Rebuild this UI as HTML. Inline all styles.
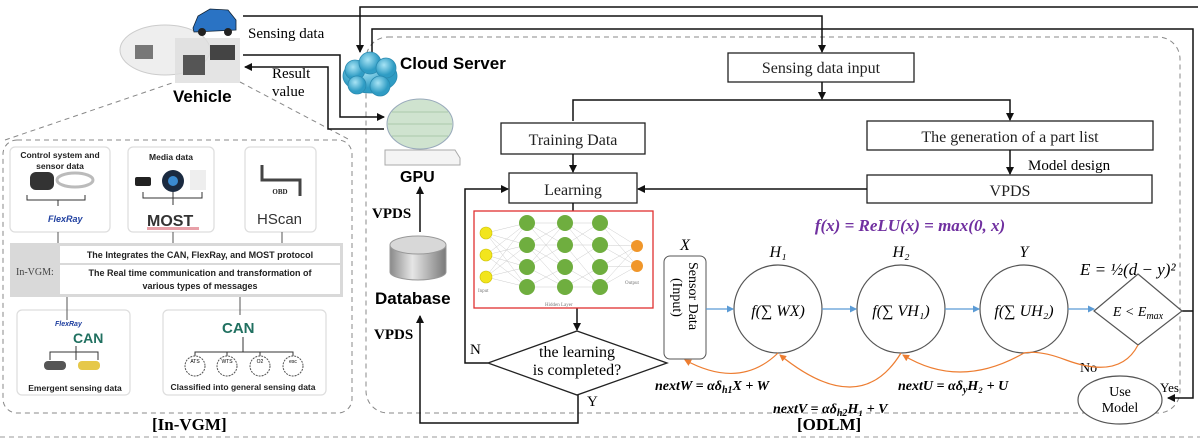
<!DOCTYPE html>
<html><head><meta charset="utf-8"><style>
html,body{margin:0;padding:0;background:#fff;}
svg{display:block;}
.s{font-family:"Liberation Serif",serif;}
.a{font-family:"Liberation Sans",sans-serif;}
</style></head><body>
<svg width="1200" height="440" viewBox="0 0 1200 440" xmlns="http://www.w3.org/2000/svg">
<defs>
<marker id="ar" markerWidth="8" markerHeight="8" refX="7" refY="4" orient="auto" markerUnits="userSpaceOnUse"><path d="M0,0 L8,4 L0,8 z" fill="#111"/></marker>
<marker id="ab" markerWidth="7" markerHeight="7" refX="6" refY="3.5" orient="auto" markerUnits="userSpaceOnUse"><path d="M0,0 L7,3.5 L0,7 z" fill="#5b9bd5"/></marker>
<marker id="ao" markerWidth="7" markerHeight="7" refX="6" refY="3.5" orient="auto" markerUnits="userSpaceOnUse"><path d="M0,0 L7,3.5 L0,7 z" fill="#ed7d31"/></marker>
<radialGradient id="cl" cx="0.4" cy="0.35"><stop offset="0" stop-color="#a8e4f5"/><stop offset="1" stop-color="#2f9cc4"/></radialGradient>
<linearGradient id="db" x1="0" x2="1"><stop offset="0" stop-color="#8a8a8a"/><stop offset="0.4" stop-color="#e6e6e6"/><stop offset="1" stop-color="#7a7a7a"/></linearGradient>
</defs>

<rect x="366" y="37" width="814" height="376" rx="22" fill="none" stroke="#888" stroke-dasharray="5,4"/>
<rect x="3" y="140" width="349" height="273" rx="14" fill="none" stroke="#888" stroke-dasharray="5,4"/>
<line x1="5" y1="140" x2="175" y2="82" stroke="#888" stroke-dasharray="5,4"/>
<line x1="240" y1="82" x2="350" y2="140" stroke="#888" stroke-dasharray="5,4"/>
<line x1="0" y1="437" x2="1200" y2="437" stroke="#999" stroke-dasharray="5,4"/>

<g>
<ellipse cx="165" cy="50" rx="45" ry="25" fill="#eee" stroke="#ccc"/>
<rect x="175" y="38" width="65" height="45" fill="#ddd" opacity="0.8"/>
<rect x="183" y="55" width="22" height="20" fill="#555"/>
<rect x="210" y="45" width="25" height="15" fill="#444"/>
<rect x="135" y="45" width="18" height="14" fill="#777"/>
<path d="M193,28 L198,16 L210,9 L228,10 L236,20 L236,30 L194,32 z" fill="#2a73c4" stroke="#123" stroke-width="0.8"/>
<circle cx="202" cy="32" r="4" fill="#222"/><circle cx="228" cy="32" r="4" fill="#222"/>
</g>
<text x="173" y="102" class="a" font-size="17" font-weight="bold">Vehicle</text>
<text x="248" y="38" class="s" font-size="15">Sensing data</text>
<text x="272" y="78" class="s" font-size="15">Result</text>
<text x="272" y="96" class="s" font-size="15">value</text>

<g stroke="#111" stroke-width="1.5" fill="none">
<polyline points="1198,7 360,7 360,52" marker-end="url(#ar)"/>
<polyline points="243,16 822,16 822,52" marker-end="url(#ar)"/>
<polyline points="372,55 372,29 1193,29 1193,398 1168,398" marker-end="url(#ar)"/>
<polyline points="1182,311 1193,311"/>
<polyline points="243,55 340,55 340,117 384,117" marker-end="url(#ar)"/>
<polyline points="384,129 328,129 328,67 245,67" marker-end="url(#ar)"/>
</g>

<g fill="url(#cl)" stroke="#2a8ab0" stroke-width="0.8">
<ellipse cx="370" cy="76" rx="27" ry="17"/>
<circle cx="355" cy="70" r="10"/><circle cx="370" cy="63" r="11"/><circle cx="386" cy="68" r="10"/>
<circle cx="357" cy="85" r="9"/><circle cx="380" cy="86" r="10"/>
</g>
<text x="400" y="69" class="a" font-size="17" font-weight="bold">Cloud Server</text>

<path d="M385,150 L455,150 L460,158 L460,165 L385,165 z" fill="#f4f4f4" stroke="#aaa"/>
<ellipse cx="420" cy="124" rx="33" ry="25" fill="#cfe3cf" stroke="#9ab"/>
<g stroke="#9fbf9f" stroke-width="0.8"><line x1="392" y1="112" x2="448" y2="112"/><line x1="388" y1="124" x2="452" y2="124"/><line x1="392" y1="136" x2="448" y2="136"/></g>
<text x="400" y="182" class="a" font-size="16" font-weight="bold">GPU</text>
<text x="372" y="218" class="s" font-size="15" font-weight="bold">VPDS</text>
<path d="M390,245 L390,272 A28,8 0 0 0 446,272 L446,245" fill="url(#db)" stroke="#999"/>
<ellipse cx="418" cy="245" rx="28" ry="9" fill="#d8d8d8" stroke="#999"/>
<text x="375" y="304" class="a" font-size="17" font-weight="bold">Database</text>
<text x="374" y="339" class="s" font-size="15" font-weight="bold">VPDS</text>
<g stroke="#111" stroke-width="1.5" fill="none">
<line x1="420" y1="232" x2="420" y2="187" marker-end="url(#ar)"/>
<polyline points="578,395 578,423 420,423 420,316" marker-end="url(#ar)"/>
</g>

<g fill="#fff" stroke="#222" stroke-width="1.3">
<rect x="728" y="53" width="186" height="29"/>
<rect x="501" y="123" width="144" height="31"/>
<rect x="867" y="121" width="286" height="29"/>
<rect x="509" y="173" width="128" height="30"/>
<rect x="867" y="175" width="285" height="28"/>
</g>
<g class="s" font-size="16" text-anchor="middle" fill="#222">
<text x="821" y="73">Sensing data input</text>
<text x="573" y="145">Training Data</text>
<text x="1010" y="142">The generation of a part list</text>
<text x="573" y="195">Learning</text>
<text x="1010" y="196">VPDS</text>
</g>
<text x="1028" y="170" class="s" font-size="15">Model design</text>
<g stroke="#111" stroke-width="1.5" fill="none">
<line x1="822" y1="82" x2="822" y2="99" marker-end="url(#ar)"/>
<polyline points="573,121 573,100 1010,100 1010,120" marker-end="url(#ar)"/>
<line x1="573" y1="154" x2="573" y2="172" marker-end="url(#ar)"/>
<line x1="1010" y1="150" x2="1010" y2="174" marker-end="url(#ar)"/>
<line x1="867" y1="189" x2="638" y2="189" marker-end="url(#ar)"/>
<line x1="573" y1="203" x2="573" y2="211"/>
<line x1="577" y1="308" x2="577" y2="330" marker-end="url(#ar)"/>
<polyline points="488,363 465,363 465,189 508,189" marker-end="url(#ar)"/>
</g>

<rect x="474" y="211" width="179" height="97" fill="#fff" stroke="#e03030" stroke-width="1.3"/>
<g stroke="#ccc" stroke-width="0.5">
<path d="M486,233 L527,223 M486,233 L527,245 M486,233 L527,267 M486,233 L527,287 M486,255 L527,223 M486,255 L527,245 M486,255 L527,267 M486,255 L527,287 M486,277 L527,223 M486,277 L527,245 M486,277 L527,267 M486,277 L527,287"/>
<path d="M527,223 L565,223 M527,223 L565,245 M527,223 L565,267 M527,245 L565,223 M527,245 L565,267 M527,245 L565,287 M527,267 L565,245 M527,267 L565,287 M527,287 L565,267 M527,287 L565,287 M527,245 L565,245 M527,267 L565,223"/>
<path d="M565,223 L600,223 M565,223 L600,245 M565,223 L600,267 M565,245 L600,223 M565,245 L600,287 M565,267 L600,245 M565,267 L600,287 M565,287 L600,267 M565,287 L600,287 M565,245 L600,245"/>
<path d="M600,223 L637,246 M600,245 L637,246 M600,267 L637,246 M600,287 L637,246 M600,223 L637,266 M600,245 L637,266 M600,267 L637,266 M600,287 L637,266"/>
</g>
<g fill="#f2e51d" stroke="#cbbf00" stroke-width="0.6"><circle cx="486" cy="233" r="6"/><circle cx="486" cy="255" r="6"/><circle cx="486" cy="277" r="6"/></g>
<g fill="#6fae3f"><circle cx="527" cy="223" r="8"/><circle cx="527" cy="245" r="8"/><circle cx="527" cy="267" r="8"/><circle cx="527" cy="287" r="8"/>
<circle cx="565" cy="223" r="8"/><circle cx="565" cy="245" r="8"/><circle cx="565" cy="267" r="8"/><circle cx="565" cy="287" r="8"/>
<circle cx="600" cy="223" r="8"/><circle cx="600" cy="245" r="8"/><circle cx="600" cy="267" r="8"/><circle cx="600" cy="287" r="8"/></g>
<g fill="#f0962a"><circle cx="637" cy="246" r="6"/><circle cx="637" cy="266" r="6"/></g>
<g class="s" font-size="5" fill="#777"><text x="478" y="292">Input</text><text x="545" y="306">Hidden Layer</text><text x="625" y="284">Output</text></g>

<polygon points="577,331 667,363 577,395 488,363" fill="#fff" stroke="#222" stroke-width="1.3"/>
<text x="577" y="357" class="s" font-size="16" text-anchor="middle">the learning</text>
<text x="577" y="375" class="s" font-size="16" text-anchor="middle">is completed?</text>
<text x="470" y="354" class="s" font-size="15">N</text>
<text x="587" y="406" class="s" font-size="15">Y</text>

<text x="910" y="231" class="s" font-size="17" font-weight="bold" font-style="italic" fill="#7030a0" text-anchor="middle">f(x) = ReLU(x) = max(0, x)</text>
<rect x="664" y="256" width="42" height="103" rx="6" fill="#fff" stroke="#555"/>
<text transform="translate(689,262) rotate(90)" class="s" font-size="14">Sensor Data</text>
<text transform="translate(673,278) rotate(90)" class="s" font-size="14">(Input)</text>
<g class="s" font-size="16" font-style="italic" text-anchor="middle">
<text x="685" y="250">X</text><text x="778" y="257">H₁</text><text x="901" y="257">H₂</text><text x="1024" y="257">Y</text>
</g>
<g fill="#fff" stroke="#555" stroke-width="1.2">
<circle cx="778" cy="309" r="44"/><circle cx="901" cy="309" r="44"/><circle cx="1024" cy="309" r="44"/>
</g>
<g class="s" font-style="italic" text-anchor="middle">
<text x="778" y="316" font-size="16">f(∑ WX)</text>
<text x="901" y="316" font-size="16">f(∑ VH₁)</text>
<text x="1024" y="316" font-size="16">f(∑ UH₂)</text>
</g>
<g stroke="#5b9bd5" stroke-width="1.2">
<line x1="706" y1="309" x2="733" y2="309" marker-end="url(#ab)"/>
<line x1="822" y1="309" x2="856" y2="309" marker-end="url(#ab)"/>
<line x1="945" y1="309" x2="979" y2="309" marker-end="url(#ab)"/>
<line x1="1068" y1="309" x2="1094" y2="309" marker-end="url(#ab)"/>
</g>
<polygon points="1138,274 1182,311 1138,345 1094,311" fill="#fff" stroke="#555" stroke-width="1.2"/>
<text x="1138" y="316" class="s" font-size="14" font-style="italic" text-anchor="middle">E &lt; E<tspan font-size="10" dy="3">max</tspan></text>
<text x="1080" y="275" class="s" font-size="17" font-style="italic">E = ½(d − y)²</text>
<ellipse cx="1120" cy="400" rx="42" ry="24" fill="#fff" stroke="#555" stroke-width="1.2"/>
<text x="1120" y="396" class="s" font-size="14" text-anchor="middle">Use</text>
<text x="1120" y="412" class="s" font-size="14" text-anchor="middle">Model</text>
<text x="1160" y="392" class="s" font-size="13">Yes</text>
<text x="1080" y="372" class="s" font-size="14">No</text>
<g stroke="#ed7d31" stroke-width="1.2" fill="none">
<path d="M778,353 Q740,390 685,360" marker-end="url(#ao)"/>
<path d="M901,353 Q860,420 780,355" marker-end="url(#ao)"/>
<path d="M1138,345 Q1120,380 1066,360 Q1040,350 1024,353" />
<path d="M1024,353 Q960,390 903,355" marker-end="url(#ao)"/>
</g>
<g class="s" font-size="14" font-style="italic" font-weight="bold">
<text x="655" y="390">nextW = αδ<tspan font-size="10" dy="3">h1</tspan><tspan dy="-3">X + W</tspan></text>
<text x="898" y="390">nextU = αδ<tspan font-size="10" dy="3">y</tspan><tspan dy="-3">H₂ + U</tspan></text>
<text x="773" y="413">nextV = αδ<tspan font-size="10" dy="3">h2</tspan><tspan dy="-3">H₁ + V</tspan></text>
</g>
<text x="797" y="430" class="s" font-size="17" font-weight="bold">[ODLM]</text>

<g fill="#fff" stroke="#ddd" stroke-width="1.2">
<rect x="10" y="147" width="100" height="85" rx="5"/>
<rect x="128" y="147" width="86" height="85" rx="5"/>
<rect x="245" y="147" width="71" height="85" rx="5"/>
<rect x="17" y="310" width="113" height="85" rx="5"/>
<rect x="163" y="310" width="163" height="85" rx="5"/>
</g>
<g class="a" font-size="8.5" font-weight="bold" text-anchor="middle" fill="#222">
<text x="60" y="158">Control system and</text>
<text x="60" y="169">sensor data</text>
<text x="171" y="160">Media data</text>
<text x="280" y="194" font-size="7" class="s">OBD</text>
<text x="75" y="391">Emergent sensing data</text>
<text x="243" y="390">Classified into general sensing data</text>
</g>
<rect x="30" y="172" width="24" height="18" rx="6" fill="#333"/>
<ellipse cx="75" cy="180" rx="18" ry="7" fill="none" stroke="#bbb" stroke-width="3"/>
<path d="M27,195 L27,200 L85,200 L85,195 M58,200 L58,206" stroke="#333" fill="none"/>
<text x="48" y="222" class="a" font-size="9" font-style="italic" font-weight="bold" fill="#2040a0">FlexRay</text>
<circle cx="173" cy="181" r="11" fill="#1a2a40"/><circle cx="173" cy="181" r="5" fill="#3a8ad0"/>
<rect x="135" y="177" width="16" height="9" rx="2" fill="#222"/>
<rect x="190" y="170" width="16" height="20" fill="#eee"/>
<path d="M143,192 L143,198 L202,198 L202,192 M173,192 L173,205" stroke="#333" fill="none"/>
<text x="147" y="226" class="a" font-size="16" font-weight="bold" fill="#333">MOST</text>
<rect x="147" y="227" width="52" height="3" fill="#e8a0a8"/>
<path d="M262,165 L262,180 L300,180 L300,196" stroke="#444" stroke-width="3" fill="none"/>
<text x="257" y="224" class="a" font-size="15" fill="#333">HScan</text>
<g stroke="#555" fill="none"><line x1="58" y1="232" x2="58" y2="243"/><line x1="173" y1="232" x2="173" y2="243"/><line x1="282" y1="232" x2="282" y2="243"/><line x1="67" y1="297" x2="67" y2="320"/><line x1="240" y1="297" x2="240" y2="315"/></g>
<rect x="10" y="243" width="333" height="54" fill="#d9d9d9"/>
<rect x="60" y="246" width="280" height="17" fill="#fff"/>
<rect x="60" y="265" width="280" height="29" fill="#fff"/>
<g class="a" font-size="9" font-weight="bold" text-anchor="middle" fill="#222">
<text x="200" y="258">The Integrates the CAN, FlexRay, and MOST protocol</text>
<text x="200" y="276">The Real time communication and transformation of</text>
<text x="200" y="289">various types of messages</text>
</g>
<text x="16" y="275" class="s" font-size="10" fill="#444">In-VGM:</text>
<text x="55" y="326" class="a" font-size="7" font-style="italic" font-weight="bold" fill="#2040a0">FlexRay</text>
<text x="73" y="343" class="a" font-size="14" font-weight="bold" fill="#207060">CAN</text>
<path d="M50,360 L50,352 L98,352 L98,360 M76,352 L76,346 M76,352 L76,360" stroke="#333" fill="none"/>
<rect x="44" y="361" width="22" height="9" rx="4" fill="#555"/><rect x="78" y="361" width="22" height="9" rx="4" fill="#e6c84a"/>
<text x="222" y="333" class="a" font-size="15" font-weight="bold" fill="#207060">CAN</text>
<path d="M195,360 L195,352 L293,352 L293,360 M227,352 L227,360 M260,352 L260,360 M243,352 L243,337" stroke="#333" fill="none"/>
<g fill="#fff" stroke="#555" stroke-dasharray="2,1"><circle cx="195" cy="366" r="10"/><circle cx="227" cy="366" r="10"/><circle cx="260" cy="366" r="10"/><circle cx="293" cy="366" r="10"/></g>
<g class="a" font-size="5" text-anchor="middle"><text x="195" y="363">ATS</text><text x="227" y="363">WTS</text><text x="260" y="363">O2</text><text x="293" y="363">esc</text></g>
<text x="152" y="430" class="s" font-size="17" font-weight="bold">[In-VGM]</text>
</svg>
</body></html>
